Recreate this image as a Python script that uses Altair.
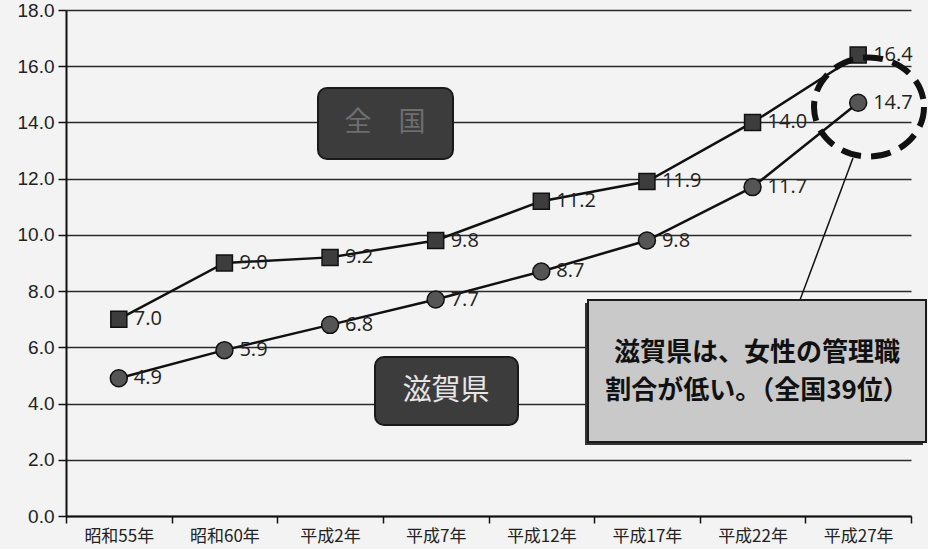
import altair as alt
import pandas as pd

years = ["昭和55年", "昭和60年", "平成2年", "平成7年", "平成12年", "平成17年", "平成22年", "平成27年"]
zenkoku = [7.0, 9.0, 9.2, 9.8, 11.2, 11.9, 14.0, 16.4]
shiga = [4.9, 5.9, 6.8, 7.7, 8.7, 9.8, 11.7, 14.7]
y_ticks = [0, 2, 4, 6, 8, 10, 12, 14, 16, 18]

note_lines = ["滋賀県は、女性の管理職", "割合が低い。（全国39位）"]

df_z = pd.DataFrame({"year": years, "value": zenkoku})
df_s = pd.DataFrame({"year": years, "value": shiga})
df_z["label"] = df_z["value"].map(lambda v: f"{v:.1f}")
df_s["label"] = df_s["value"].map(lambda v: f"{v:.1f}")
one = pd.DataFrame({"k": [0]})

W, H = 845, 506

x_enc = alt.X(
    "year:N",
    sort=years,
    scale=alt.Scale(type="band", domain=years, paddingInner=0, paddingOuter=0),
    axis=alt.Axis(
        title=None, tickBand="extent", labelAngle=0, grid=False,
        labelFont="Noto Sans CJK JP", labelFontSize=17, labelColor="#222",
        labelPadding=5, tickSize=7, tickColor="#111", tickWidth=1.5,
        domainColor="#111", domainWidth=2,
    ),
)
y_enc = alt.Y(
    "value:Q",
    scale=alt.Scale(domain=[0, 18], nice=False, zero=True),
    axis=alt.Axis(
        title=None, values=y_ticks, format=".1f", grid=True,
        gridColor="#2a2a2a", gridWidth=1.4,
        domainColor="#111", domainWidth=2,
        tickColor="#111", tickSize=8, tickWidth=1.5,
        labelFont="Liberation Sans", labelFontSize=19, labelColor="#222",
        labelPadding=4,
    ),
)

def series_layers(d, shape, fill, size):
    base = alt.Chart(d).encode(x=x_enc, y=y_enc)
    line = base.mark_line(color="#111", strokeWidth=2.5)
    pts = base.mark_point(shape=shape, filled=True, fill=fill, stroke="#111",
                          strokeWidth=1.5, size=size, opacity=1)
    lab = base.mark_text(align="left", baseline="middle", dx=15, font="Open Sans",
                         fontSize=20, color="#222").encode(text="label:N")
    return [line, pts, lab]

layers = []
layers += series_layers(df_z, "square", "#3d3d3d", 256)
layers += series_layers(df_s, "circle", "#555555", 289)

ann = alt.Chart(one)

# 全国 box
box1 = ann.mark_rect(fill="#3c3c3c", stroke="#1a1a1a", strokeWidth=2, cornerRadius=9).encode(
    x=alt.value(252), x2=alt.value(387), y=alt.value(78), y2=alt.value(149))
txt1 = ann.mark_text(text="全　国", font="Noto Sans CJK JP", fontSize=27, color="#6e6e6e",
                     align="center", baseline="middle").encode(x=alt.value(319), y=alt.value(113))

# 滋賀県 box
box2 = ann.mark_rect(fill="#3c3c3c", stroke="#1a1a1a", strokeWidth=2, cornerRadius=9).encode(
    x=alt.value(309), x2=alt.value(452), y=alt.value(347), y2=alt.value(415))
txt2 = ann.mark_text(text="滋賀県", font="Noto Sans CJK JP", fontSize=29, color="#e6e6e6",
                     align="center", baseline="middle").encode(x=alt.value(380), y=alt.value(381))

# connector line
conn = ann.mark_rule(color="#111", strokeWidth=1.5).encode(
    x=alt.value(734), x2=alt.value(787), y=alt.value(290), y2=alt.value(148))

# dashed ellipse
ell_path = ("M 1 0 C 1 0.497 0.5523 0.9 0 0.9 C -0.5523 0.9 -1 0.497 -1 0 "
            "C -1 -0.497 -0.5523 -0.9 0 -0.9 C 0.5523 -0.9 1 -0.497 1 0 Z")
ell = ann.mark_point(shape=ell_path, filled=False, stroke="#111", strokeWidth=6,
                     strokeDash=[20, 10], size=12100, opacity=1).encode(
    x=alt.value(803), y=alt.value(97))

# note box with shadow
shadow = ann.mark_rect(fill="#333333").encode(
    x=alt.value(519), x2=alt.value(857), y=alt.value(293), y2=alt.value(435))
box3 = ann.mark_rect(fill="#c9c9c9", stroke="#1a1a1a", strokeWidth=2).encode(
    x=alt.value(522), x2=alt.value(860), y=alt.value(290), y2=alt.value(432))
note1 = ann.mark_text(text=note_lines[0], font="Noto Sans CJK JP", fontWeight="bold",
                      fontSize=26, color="#111", align="center", baseline="middle").encode(
    x=alt.value(691), y=alt.value(343))
note2 = ann.mark_text(text=note_lines[1], font="Noto Sans CJK JP", fontWeight="bold",
                      fontSize=26, color="#111", align="center", baseline="middle").encode(
    x=alt.value(691), y=alt.value(381))

chart = alt.layer(
    *layers, box1, txt1, box2, txt2, conn, ell, shadow, box3, note1, note2
).properties(
    width=W, height=H,
    padding={"left": 66, "top": 10, "right": 17, "bottom": 33},
    autosize=alt.AutoSizeParams(type="none"),
    background="#f3f3f3",
).configure_view(stroke=None)

chart.save("out.html", embed_options={"renderer": "svg", "actions": False})
